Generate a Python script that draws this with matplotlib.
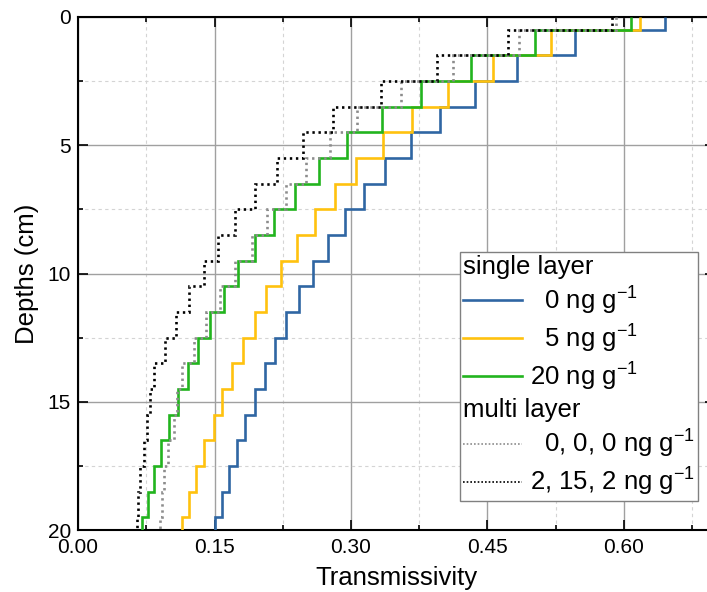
import numpy as np
import matplotlib
matplotlib.use("Agg")
import matplotlib.pyplot as plt
from matplotlib.lines import Line2D
from matplotlib.ticker import MultipleLocator, FormatStrFormatter

plt.rcParams['font.family'] = ['Liberation Sans', 'DejaVu Sans']
plt.rcParams['mathtext.fontset'] = 'custom'
plt.rcParams['mathtext.rm'] = 'Liberation Sans'
plt.rcParams['mathtext.it'] = 'Liberation Sans:italic'
plt.rcParams['mathtext.bf'] = 'Liberation Sans:bold'

# layer centres (cm), one value per layer
depth_cm = [0, 1, 2, 3, 4, 5, 6, 7, 8, 9, 10, 11, 12, 13, 14, 15, 16, 17, 18, 19, 20]

single_0 = [0.645, 0.546, 0.482, 0.436, 0.398, 0.366, 0.337, 0.314, 0.293, 0.275, 0.258,
            0.243, 0.229, 0.217, 0.205, 0.194, 0.184, 0.175, 0.166, 0.158, 0.150]
single_5 = [0.618, 0.520, 0.456, 0.407, 0.367, 0.335, 0.305, 0.282, 0.260, 0.241, 0.223,
            0.207, 0.194, 0.181, 0.169, 0.158, 0.149, 0.139, 0.130, 0.122, 0.114]
single_20 = [0.608, 0.502, 0.432, 0.377, 0.334, 0.296, 0.265, 0.239, 0.215, 0.195, 0.176,
             0.160, 0.145, 0.132, 0.121, 0.110, 0.100, 0.091, 0.084, 0.077, 0.070]
multi_000 = [0.591, 0.485, 0.412, 0.355, 0.307, 0.277, 0.251, 0.229, 0.208, 0.191, 0.173,
             0.156, 0.141, 0.127, 0.114, 0.109, 0.105, 0.099, 0.095, 0.092, 0.090]
multi_2152 = [0.587, 0.473, 0.395, 0.333, 0.280, 0.247, 0.219, 0.194, 0.173, 0.154, 0.138,
              0.122, 0.108, 0.096, 0.084, 0.079, 0.076, 0.072, 0.068, 0.066, 0.065]

d = np.array(depth_cm, dtype=float)
edges = np.concatenate(([d[0]], (d[:-1] + d[1:]) / 2, [d[-1]]))

blue = '#2f66a3'
yellow = '#ffc20e'
green = '#22b41e'
grey = '#8c8c8c'
lw = 1.9
dot = (0, (0.9, 1.4))

fig = plt.figure(figsize=(7.07, 5.92), dpi=100)
ax = fig.add_axes([78 / 707, 62 / 592, 637 / 707, 513 / 592])

ax.stairs(single_0, edges, orientation='horizontal', baseline=None, color=blue, lw=lw, zorder=3)
ax.stairs(single_5, edges, orientation='horizontal', baseline=None, color=yellow, lw=lw, zorder=3)
ax.stairs(single_20, edges, orientation='horizontal', baseline=None, color=green, lw=lw, zorder=3)
ax.stairs(multi_000, edges, orientation='horizontal', baseline=None, color=grey, lw=lw,
          linestyle=dot, zorder=4)
ax.stairs(multi_2152, edges, orientation='horizontal', baseline=None, color='black', lw=lw,
          linestyle=dot, zorder=4)

ax.set_xlim(0, 0.70)
ax.set_ylim(20, 0)
ax.xaxis.set_major_locator(MultipleLocator(0.15))
ax.xaxis.set_minor_locator(MultipleLocator(0.075))
ax.xaxis.set_major_formatter(FormatStrFormatter('%.2f'))
ax.yaxis.set_major_locator(MultipleLocator(5))
ax.yaxis.set_minor_locator(MultipleLocator(2.5))

ax.grid(True, which='major', color='#a0a0a0', lw=1.0, ls='-', zorder=0)
ax.grid(True, which='minor', color='#d4d4d4', lw=0.8, ls=(0, (3, 3)), zorder=0)
ax.set_axisbelow(True)

ax.tick_params(which='both', direction='in', top=True, right=True, labelsize=15, width=1.2)
ax.tick_params(which='major', length=7)
ax.tick_params(which='minor', length=3.5)
ax.tick_params(axis='x', pad=6)
ax.tick_params(axis='y', pad=5)
for s in ax.spines.values():
    s.set_linewidth(1.5)

ax.set_xlabel('Transmissivity', fontsize=18.5, labelpad=6)
ax.set_ylabel('Depths (cm)', fontsize=18.5, labelpad=6)

empty = Line2D([], [], color='none')
handles = [empty,
           Line2D([], [], color=blue, lw=lw),
           Line2D([], [], color=yellow, lw=lw),
           Line2D([], [], color=green, lw=lw),
           empty,
           Line2D([], [], color=grey, lw=1.2, ls=(0, (1, 1.2))),
           Line2D([], [], color='black', lw=1.2, ls=(0, (1, 1.2)))]
labels = ['single layer',
          r'  0 ng g$^{-1}$',
          r'  5 ng g$^{-1}$',
          r'20 ng g$^{-1}$',
          'multi layer',
          r'  0, 0, 0 ng g$^{-1}$',
          r'2, 15, 2 ng g$^{-1}$']

leg = ax.legend(handles, labels, loc='lower right',
                bbox_to_anchor=((698 - 78) / 637, 29 / 513),
                fontsize=18.5, frameon=True, fancybox=False, framealpha=1,
                edgecolor='#808080', borderpad=0.12, labelspacing=0.22,
                handlelength=2.3, handletextpad=0.3, borderaxespad=0)
leg.get_frame().set_linewidth(1.0)

headings = {'single layer', 'multi layer'}
for col in leg._legend_handle_box.get_children():
    for row in col.get_children():
        da, ta = row.get_children()
        if ta.get_text() in headings:
            da.width = 0
            row.sep = 0

fig.savefig('out.png', dpi=100)
